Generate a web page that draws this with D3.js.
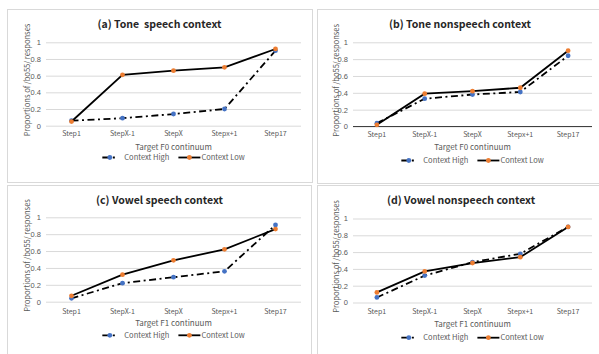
<!DOCTYPE html>
<html>
<head>
<meta charset="utf-8">
<script src="https://cdn.jsdelivr.net/npm/d3@7"></script>
<style>
  body { margin: 0; background: #fff; }
  svg { display: block; font-family: "Noto Sans CJK SC", "Noto Sans", sans-serif; }
  text { white-space: pre; }
</style>
</head>
<body>
<div id="chart"></div>
<script>
const categories = ['Step1', 'StepX-1', 'StepX', 'Stepx+1', 'Step17'];
const seriesNames = ['Context High', 'Context Low'];

const toneSpeechHigh = [0.06, 0.09, 0.14, 0.20, 0.90];
const toneSpeechLow = [0.05, 0.61, 0.66, 0.70, 0.92];
const toneNonspeechHigh = [0.04, 0.33, 0.38, 0.41, 0.84];
const toneNonspeechLow = [0.02, 0.39, 0.42, 0.46, 0.90];
const vowelSpeechHigh = [0.04, 0.22, 0.29, 0.36, 0.91];
const vowelSpeechLow = [0.07, 0.32, 0.49, 0.62, 0.86];
const vowelNonspeechHigh = [0.06, 0.32, 0.48, 0.58, 0.90];
const vowelNonspeechLow = [0.12, 0.37, 0.47, 0.54, 0.90];

const yTicks = [0, 0.2, 0.4, 0.6, 0.8, 1];
const yTitle = 'Proportions of /bo55/ responses';

// layout of the four panels (box, plot area, text rows)
const panels = [
    { title: '(a) Tone  speech context', xTitle: 'Target F0 continuum', high: toneSpeechHigh, low: toneSpeechLow,
      box: [7, 9, 305, 173], plot: [46, 301, 42.3, 125.7], yTitleX: 27, titleX: 159.5, titleY: 24, catY: 134, xTitleY: 147, legY: 157.5, axisLine: false },
    { title: '(b) Tone nonspeech context', xTitle: 'Target F0 continuum', high: toneNonspeechHigh, low: toneNonspeechLow,
      box: [317, 9, 290, 174], plot: [353, 592, 42.3, 126.5], yTitleX: 336, titleX: 460, titleY: 24, catY: 135, xTitleY: 147, legY: 160.5, axisLine: true },
    { title: '(c) Vowel speech context', xTitle: 'Target F1 continuum', high: vowelSpeechHigh, low: vowelSpeechLow,
      box: [7, 185, 304, 180], plot: [46, 301, 217.3, 301.7], yTitleX: 27, titleX: 159.5, titleY: 200.3, catY: 311.3, xTitleY: 323, legY: 335.3, axisLine: false },
    { title: '(d) Vowel nonspeech context', xTitle: 'Target F1 continuum', high: vowelNonspeechHigh, low: vowelNonspeechLow,
      box: [317, 185, 290, 180], plot: [353, 592, 218.5, 302.5], yTitleX: 336, titleX: 461, titleY: 200.3, catY: 312, xTitleY: 323.7, legY: 337.7, axisLine: false },
];

const W = 599, H = 354;
const textColor = '#595959';
const gridColor = '#d9d9d9';
const blue = '#4472c4', orange = '#ed7d31';
const dashDot = '7,3.5,2,3.5';

const svg = d3.select('#chart').append('svg')
    .attr('width', W)
    .attr('height', H);

svg.append('rect').attr('width', W).attr('height', H).attr('fill', '#fff');

panels.forEach(p => {
    const [bx, by, bw, bh] = p.box;
    const [left, right, top, bottom] = p.plot;
    const g = svg.append('g');

    g.append('rect')
        .attr('x', bx + 0.5).attr('y', by + 0.5)
        .attr('width', bw).attr('height', bh)
        .attr('fill', '#fff')
        .attr('stroke', gridColor);

    const x = d3.scaleBand().domain(categories).range([left, right]);
    const cx = d => x(d) + x.bandwidth() / 2;
    const y = d3.scaleLinear().domain([0, 1]).range([bottom, top]);

    // gridlines + y tick labels
    const yAxis = g.append('g')
        .attr('transform', `translate(${left},0)`)
        .call(d3.axisLeft(y).tickValues(yTicks).tickFormat(d3.format('~g'))
            .tickSize(-(right - left)).tickPadding(5));
    yAxis.select('.domain').remove();
    yAxis.selectAll('line').attr('stroke', gridColor);
    yAxis.selectAll('text').attr('fill', textColor).style('font-size', '7.5px');

    if (p.axisLine) {
        g.append('line')
            .attr('x1', left).attr('x2', right)
            .attr('y1', y(0)).attr('y2', y(0))
            .attr('stroke', '#404040').attr('stroke-width', 1);
    }

    // category labels
    g.append('g').selectAll('text')
        .data(categories)
        .join('text')
        .attr('x', d => cx(d))
        .attr('y', p.catY)
        .attr('dy', '0.35em')
        .attr('text-anchor', 'middle')
        .attr('fill', textColor)
        .style('font-size', '7px')
        .text(d => d);

    // titles
    g.append('text')
        .attr('x', p.titleX)
        .attr('y', p.titleY)
        .attr('dy', '0.35em')
        .attr('text-anchor', 'middle')
        .attr('fill', '#262626')
        .style('font-size', '10.5px')
        .style('font-weight', 'bold')
        .text(p.title);

    g.append('text')
        .attr('x', (left + right) / 2)
        .attr('y', p.xTitleY)
        .attr('dy', '0.35em')
        .attr('text-anchor', 'middle')
        .attr('fill', textColor)
        .style('font-size', '8px')
        .text(p.xTitle);

    g.append('text')
        .attr('transform', `translate(${p.yTitleX},${(top + bottom) / 2 - 4}) rotate(-90)`)
        .attr('dy', '0.35em')
        .attr('text-anchor', 'middle')
        .attr('fill', textColor)
        .style('font-size', '7.5px')
        .text(yTitle);

    // series: High (dash-dot, blue markers), then Low (solid, orange markers)
    const line = d3.line().x((d, i) => cx(categories[i])).y(d => y(d));
    const series = [
        { values: p.high, dash: dashDot, color: blue },
        { values: p.low, dash: null, color: orange },
    ];
    series.forEach(s => {
        g.append('path')
            .datum(s.values)
            .attr('d', line)
            .attr('fill', 'none')
            .attr('stroke', '#000')
            .attr('stroke-width', 1.8)
            .attr('stroke-dasharray', s.dash);
        g.append('g').selectAll('circle')
            .data(s.values)
            .join('circle')
            .attr('cx', (d, i) => cx(categories[i]))
            .attr('cy', d => y(d))
            .attr('r', 2.4)
            .attr('fill', s.color);
    });

    // legend, laid out from measured text widths and centred under the plot
    const mid = (left + right) / 2;
    const leg = g.append('g');
    const legItems = [
        { name: seriesNames[0], sample: 15, gapBefore: 0, gapText: 7, dash: dashDot, color: blue },
        { name: seriesNames[1], sample: 22, gapBefore: 9, gapText: 1, dash: null, color: orange },
    ];
    let cursor = 0;
    legItems.forEach(it => {
        cursor += it.gapBefore;
        leg.append('line')
            .attr('x1', cursor).attr('x2', cursor + it.sample)
            .attr('stroke', '#000').attr('stroke-width', 1.8)
            .attr('stroke-dasharray', it.dash);
        leg.append('circle').attr('cx', cursor + it.sample / 2).attr('r', 2.4).attr('fill', it.color);
        cursor += it.sample + it.gapText;
        const t = leg.append('text')
            .attr('x', cursor)
            .attr('dy', '0.35em')
            .attr('fill', textColor)
            .style('font-size', '7.5px')
            .text(it.name);
        cursor += t.node().getComputedTextLength();
    });
    leg.attr('transform', `translate(${mid - cursor / 2},${p.legY})`);
});
</script>
</body>
</html>
